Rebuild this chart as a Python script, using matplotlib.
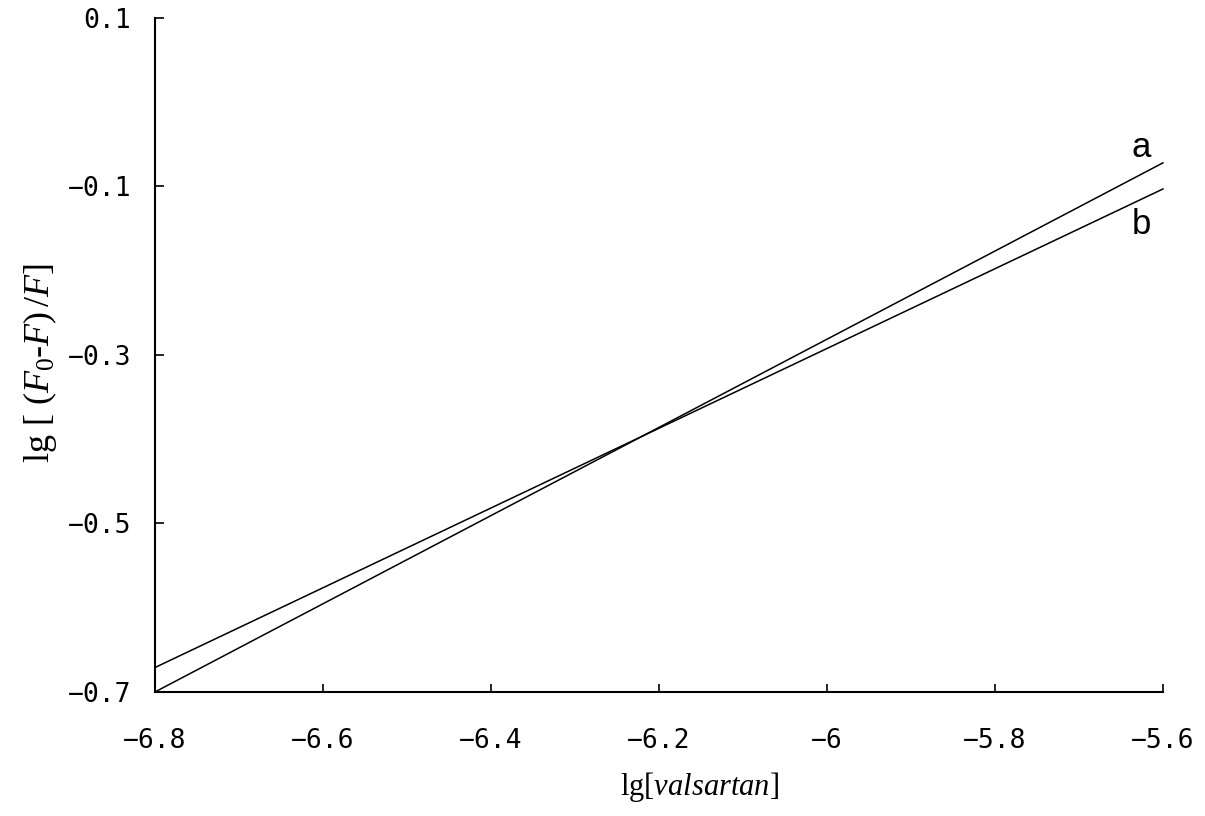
import matplotlib
matplotlib.use('Agg')
import matplotlib.pyplot as plt

# ── data ─────────────────────────────────────────────────────────────────────
x_vals   = [-6.8, -5.6]
line_a   = [-0.700, -0.072]
line_b   = [-0.671, -0.103]
x_ticks  = [-6.8, -6.6, -6.4, -6.2, -6.0, -5.8, -5.6]
x_labels = ['-6.8', '-6.6', '-6.4', '-6.2', '-6', '-5.8', '-5.6']
y_ticks  = [-0.7, -0.5, -0.3, -0.1, 0.1]
y_labels = ['-0.7', '-0.5', '-0.3', '-0.1', '0.1']

plt.rcParams['mathtext.fontset'] = 'custom'
plt.rcParams['mathtext.rm'] = 'Liberation Serif'
plt.rcParams['mathtext.it'] = 'Liberation Serif:italic'

fig = plt.figure(figsize=(12.05, 8.16), dpi=100)
ax = fig.add_axes([0.1286, 0.152, 0.8365, 0.826])

ax.plot(x_vals, line_a, color='black', linewidth=1.1, clip_on=False)
ax.plot(x_vals, line_b, color='black', linewidth=1.1, clip_on=False)

ax.text(-5.626, -0.054, 'a', fontsize=25, family='Liberation Sans',
        ha='center', va='center')
ax.text(-5.626, -0.145, 'b', fontsize=25, family='Liberation Sans',
        ha='center', va='center')

ax.set_xlim(-6.8, -5.6)
ax.set_ylim(-0.7, 0.1)
ax.set_xticks(x_ticks)
ax.set_xticklabels([s.replace('-', '\u2212') for s in x_labels])
ax.set_yticks(y_ticks)
ax.set_yticklabels([s.replace('-', '\u2212') for s in y_labels])

for lab in ax.get_xticklabels() + ax.get_yticklabels():
    lab.set_family('DejaVu Sans Mono')
    lab.set_fontsize(19)

ax.tick_params(axis='x', direction='in', length=6, width=1.2, pad=26)
ax.tick_params(axis='y', direction='in', length=6.5, width=1.2, pad=17)

for side in ('top', 'right'):
    ax.spines[side].set_visible(False)
for side in ('left', 'bottom'):
    ax.spines[side].set_linewidth(1.5)

ax.set_xlabel(r'lg[$\mathit{valsartan}$]', fontsize=22, family='Liberation Serif')
ax.set_ylabel(r'lg [ $\mathit{(F_{0}}$-$\mathit{F)}\,/\mathit{F}$]', fontsize=26,
              family='Liberation Serif')
ax.xaxis.set_label_coords(0.54, -0.116)
ax.yaxis.set_label_coords(-0.095, 0.488)

plt.savefig('out.png', dpi=100)
plt.close()
